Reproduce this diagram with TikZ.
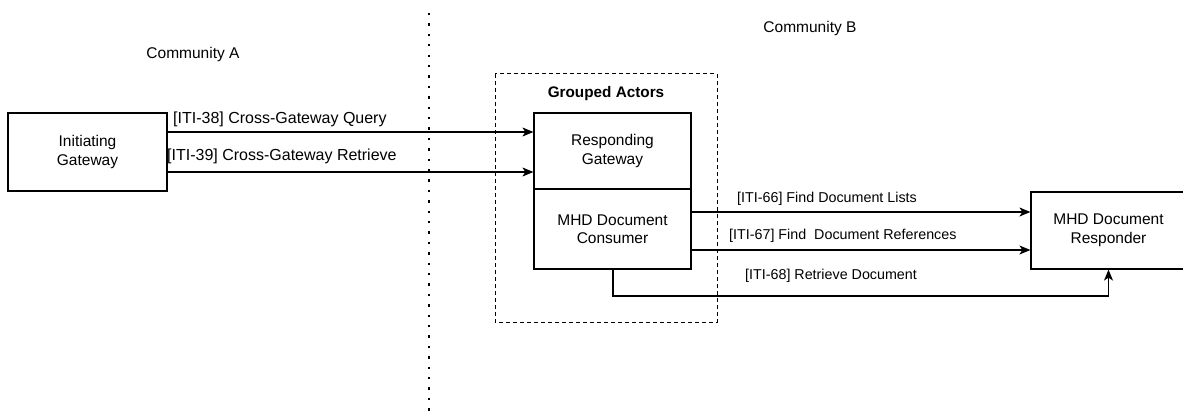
\documentclass[tikz,border=0pt]{standalone}
\usepackage{fontspec}
\setmainfont{Liberation Sans}
\usetikzlibrary{arrows.meta}
\begin{document}
\begin{tikzpicture}[x=1pt,y=-1pt,
  every node/.style={font=\fontsize{15.5}{18.5}\selectfont, inner sep=0pt},
  actor/.style={draw, line width=1.2pt, minimum width=#1, align=center},
  conn/.style={line width=1.2pt, -{Stealth[length=11pt,width=9pt,inset=3pt]}},
  lbla/.style={anchor=base west, font=\fontsize{16}{19}\selectfont},
  lblb/.style={anchor=base west, font=\fontsize{14.3}{17}\selectfont}]
\useasboundingbox (0,0) rectangle (1183,412);
\clip (0,0) rectangle (1183,412);
% divider
\coordinate (dtop) at (429,13);
\coordinate (dbot) at (429,412);
\draw[line width=2.3pt, dash pattern=on 2.3pt off 8.1pt] (dtop) -- (dbot);
% community labels
\node (ca) at (193,54) {Community A};
\node (cb) at (810,28) {Community B};
% grouped actors
\draw[line width=1pt, dash pattern=on 4pt off 3pt] (495,74) rectangle (717,322);
\node[font=\fontsize{15.3}{18}\selectfont\bfseries] (ga) at (606,94) {Grouped Actors};
% boxes
\node[actor, minimum width=159pt, minimum height=78pt] (ig) at (87.5,152) {Initiating\\Gateway};
\node[actor, minimum width=157pt, minimum height=76pt] (rg) at (612.5,151) {Responding\\Gateway};
\node[actor, minimum width=157pt, minimum height=80pt] (mc) at (612.5,229) {MHD Document\\Consumer};
\node[actor, minimum width=155pt, minimum height=77pt] (mr) at (1108.5,230.5) {MHD Document\\Responder};
% cross-gateway arrows
\draw[conn] (ig.east |- 0,132) -- (rg.west |- 0,132);
\draw[conn] (ig.east |- 0,172) -- (rg.west |- 0,172);
\node[lbla] (l38) at (173,123) {[ITI-38] Cross-Gateway Query};
\node[lbla] (l39) at (167,160) {[ITI-39] Cross-Gateway Retrieve};
% MHD arrows
\draw[conn] (mc.east |- 0,212) -- (mr.west |- 0,212);
\draw[conn] (mc.east |- 0,250) -- (mr.west |- 0,250);
\coordinate (c68) at (613,296);
\draw[conn] (mc.south -| c68) -- (c68) -| (mr.south);
\node[lblb] (l66) at (737,202.5) {[ITI-66] Find Document Lists};
\node[lblb] (l67) at (729,239) {[ITI-67] Find\ \ Document References};
\node[lblb] (l68) at (745,279) {[ITI-68] Retrieve Document};
\end{tikzpicture}
\end{document}
